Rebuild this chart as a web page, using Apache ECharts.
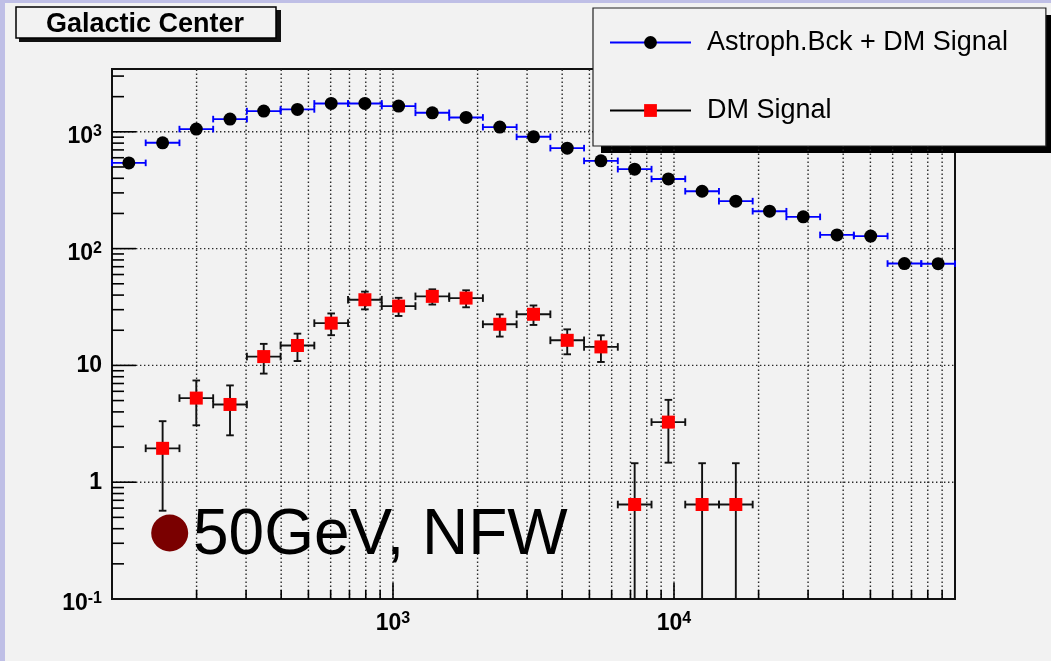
<!DOCTYPE html>
<html>
<head>
<meta charset="utf-8">
<script src="https://cdn.jsdelivr.net/npm/echarts@6.0.0/dist/echarts.min.js"></script>
<style>
  html, body { margin: 0; padding: 0; background: #f2f2f2; }
  #chart { width: 1051px; height: 661px; }
</style>
</head>
<body>
<div id="chart"></div>
<script>
// 25 logarithmic energy bins (GeV), 100 GeV .. 100 TeV
const binEdges = [100, 131.8, 173.8, 229.1, 302.0, 398.1, 524.8, 691.8, 912.0, 1202, 1585, 2089, 2754,
  3631, 4786, 6310, 8318, 10965, 14454, 19055, 25119, 33113, 43652, 57544, 75858, 100000];
const binCenters = [114.8, 151.4, 199.5, 263.0, 346.7, 457.1, 602.6, 794.3, 1047, 1380, 1820, 2399, 3162,
  4169, 5495, 7244, 9550, 12589, 16596, 21878, 28840, 38019, 50119, 66069, 87096];

// Counts per bin: astrophysical background plus dark-matter signal
const bckPlusSignal = [542, 805, 1055, 1285, 1504, 1556, 1750, 1750, 1660, 1455, 1328, 1097, 906,
  725, 564, 479, 395, 310, 255, 209, 187, 131, 128, 74.5, 74.3];

// Dark-matter signal alone (null = empty bin) and its statistical error
const dmSignal = [null, 1.95, 5.25, 4.63, 11.9, 14.8, 23.0, 36.5, 32.2, 39.0, 37.7, 22.5, 27.4,
  16.4, 14.4, 0.644, 3.27, 0.644, 0.644, null, null, null, null, null, null];
const dmSignalErr = [null, 1.38, 2.18, 2.11, 3.39, 3.9, 4.85, 6.3, 5.7, 5.8, 6.25, 4.85, 5.2,
  3.95, 3.7, 0.81, 1.8, 0.81, 0.81, null, null, null, null, null, null];

// Axis ranges and tick positions
const xRange = [100, 100000];
const yRange = [0.1, 3450];
const xDecades = [100, 1000, 10000];
const yDecades = [0.1, 1, 10, 100, 1000];
const minorMultiples = [2, 3, 4, 5, 6, 7, 8, 9];

const FONT = 'Liberation Sans';
const seriesNames = ['Astroph.Bck + DM Signal', 'DM Signal'];

function powerLabel(v, hidden) {
  const e = Math.log10(v);
  const n = Math.round(e);
  if (Math.abs(e - n) > 1e-6 || hidden.indexOf(n) >= 0) return '';
  if (n === 0) return '{c|1}';
  if (n === 1) return '{c|10}';
  return '{b|10}{s|' + n + '}';
}
const labelRich = {
  c: { fontFamily: FONT, fontSize: 23, fontWeight: 'bold', color: '#000' },
  b: { fontFamily: FONT, fontSize: 23, fontWeight: 'bold', color: '#000', lineHeight: 33, verticalAlign: 'bottom' },
  s: { fontFamily: FONT, fontSize: 16, fontWeight: 'bold', color: '#000', verticalAlign: 'middle' }
};

// Dotted grid lines and inward ticks (major + minor) on the bottom and left axes
function renderFrame(params, api) {
  const children = [];
  const bottom = api.coord([xRange[0], yRange[0]])[1];
  const top = api.coord([xRange[0], yRange[1]])[1];
  const left = api.coord([xRange[0], yRange[0]])[0];
  const right = api.coord([xRange[1], yRange[0]])[0];
  const dot = { stroke: '#2a2a2a', lineWidth: 1.4, lineDash: [1.4, 2.6] };
  const tick = { stroke: '#000', lineWidth: 1.6 };
  xDecades.forEach(function (d) {
    [1].concat(minorMultiples).forEach(function (m) {
      const v = d * m;
      if (v <= xRange[0] * 1.0001 || v >= xRange[1] * 0.9999) return;
      const px = api.coord([v, yRange[0]])[0];
      children.push({ type: 'line', shape: { x1: px, y1: bottom, x2: px, y2: top }, style: dot });
      children.push({ type: 'line', shape: { x1: px, y1: bottom, x2: px, y2: bottom - (m === 1 ? 16 : 9) }, style: tick });
    });
  });
  yDecades.forEach(function (d) {
    [1].concat(minorMultiples).forEach(function (m) {
      const v = d * m;
      if (v <= yRange[0] * 1.0001 || v >= yRange[1]) return;
      const py = api.coord([xRange[0], v])[1];
      if (m === 1) {
        children.push({ type: 'line', shape: { x1: left, y1: py, x2: right, y2: py }, style: dot });
      }
      children.push({ type: 'line', shape: { x1: left, y1: py, x2: left + (m === 1 ? 24 : 12), y2: py }, style: tick });
    });
  });
  return { type: 'group', children: children };
}

// Bin-width (horizontal) and statistical (vertical) error bars
function makeErrorRenderer(color, capHalf, withVertical) {
  return function (params, api) {
    const xc = api.value(0), y = api.value(1), x0 = api.value(2), x1 = api.value(3), err = api.value(4);
    const pc = api.coord([xc, y]);
    const pl = api.coord([x0, y]);
    const pr = api.coord([x1, y]);
    const st = { stroke: color, lineWidth: 1.9 };
    const ch = [
      { type: 'line', shape: { x1: pl[0], y1: pc[1], x2: pr[0], y2: pc[1] }, style: st },
      { type: 'line', shape: { x1: pl[0], y1: pc[1] - capHalf, x2: pl[0], y2: pc[1] + capHalf }, style: st },
      { type: 'line', shape: { x1: pr[0], y1: pc[1] - capHalf, x2: pr[0], y2: pc[1] + capHalf }, style: st }
    ];
    if (withVertical && err > 0) {
      const hi = api.coord([xc, y + err])[1];
      ch.push({ type: 'line', shape: { x1: pc[0], y1: pc[1], x2: pc[0], y2: hi }, style: st });
      ch.push({ type: 'line', shape: { x1: pc[0] - capHalf, y1: hi, x2: pc[0] + capHalf, y2: hi }, style: st });
      const lowVal = y - err;
      if (lowVal > yRange[0]) {
        const lo = api.coord([xc, lowVal])[1];
        ch.push({ type: 'line', shape: { x1: pc[0], y1: pc[1], x2: pc[0], y2: lo }, style: st });
        ch.push({ type: 'line', shape: { x1: pc[0] - capHalf, y1: lo, x2: pc[0] + capHalf, y2: lo }, style: st });
      } else {
        const lo = api.coord([xc, yRange[0]])[1];
        ch.push({ type: 'line', shape: { x1: pc[0], y1: pc[1], x2: pc[0], y2: lo }, style: st });
      }
    }
    return { type: 'group', children: ch };
  };
}

const bckRows = binCenters.map(function (c, i) {
  return [c, bckPlusSignal[i], binEdges[i], binEdges[i + 1], 0];
});
const dmRows = [];
binCenters.forEach(function (c, i) {
  if (dmSignal[i] !== null) dmRows.push([c, dmSignal[i], binEdges[i], binEdges[i + 1], dmSignalErr[i]]);
});

const chart = echarts.init(document.getElementById('chart'), null, { renderer: 'canvas' });
chart.setOption({
  animation: false,
  backgroundColor: '#f2f2f2',
  title: {
    text: 'Galactic Center',
    left: 16, top: 7,
    padding: [4, 32, 0, 30],
    backgroundColor: '#f2f2f2',
    borderColor: '#000', borderWidth: 1.5,
    textStyle: { fontFamily: FONT, fontSize: 27, fontWeight: 'bold', color: '#000' }
  },
  legend: {
    orient: 'vertical',
    left: 593, top: 8,
    padding: [21, 38, 22, 16],
    itemWidth: 81, itemHeight: 16, itemGap: 41,
    selectedMode: false,
    backgroundColor: '#f2f2f2',
    borderColor: '#222', borderWidth: 1.2,
    textStyle: { fontFamily: FONT, fontSize: 27, color: '#000', padding: [0, 0, 0, 11] },
    data: [
      { name: seriesNames[0], lineStyle: { color: '#0000ff', width: 2, opacity: 1 }, itemStyle: { color: '#000' } },
      { name: seriesNames[1], lineStyle: { color: '#000', width: 2, opacity: 1 }, itemStyle: { color: '#ff0000' } }
    ]
  },
  grid: {
    left: 112, top: 69, right: 96, bottom: 62,
    show: true, borderColor: '#111', borderWidth: 2, backgroundColor: 'transparent'
  },
  xAxis: {
    type: 'log', logBase: 10, min: xRange[0], max: xRange[1],
    axisLine: { show: false }, axisTick: { show: false }, splitLine: { show: false },
    axisLabel: {
      margin: 3, showMinLabel: false, showMaxLabel: false,
      formatter: function (v) { return powerLabel(v, [2, 5]); },
      rich: labelRich
    }
  },
  yAxis: {
    type: 'log', logBase: 10, min: yRange[0], max: yRange[1],
    axisLine: { show: false }, axisTick: { show: false }, splitLine: { show: false },
    axisLabel: {
      margin: 10, showMaxLabel: false,
      formatter: function (v) { return powerLabel(v, []); },
      rich: labelRich
    }
  },
  series: [
    {
      type: 'custom', name: 'frame', silent: true, z: 1,
      renderItem: renderFrame, data: [[1000, 10]]
    },
    {
      type: 'custom', name: 'bck-bins', silent: true, z: 2,
      renderItem: makeErrorRenderer('#0000ff', 3.3, false),
      encode: { x: 0, y: 1 }, data: bckRows
    },
    {
      type: 'custom', name: 'dm-bins', silent: true, z: 2,
      renderItem: makeErrorRenderer('#111', 3.8, true),
      encode: { x: 0, y: 1 }, data: dmRows
    },
    {
      type: 'line', name: seriesNames[0], z: 5,
      symbol: 'circle', symbolSize: 13, showSymbol: true,
      itemStyle: { color: '#000' }, lineStyle: { opacity: 0 },
      data: bckRows.map(function (r) { return [r[0], r[1]]; })
    },
    {
      type: 'line', name: seriesNames[1], z: 5,
      symbol: 'rect', symbolSize: 13, showSymbol: true,
      itemStyle: { color: '#ff0000' }, lineStyle: { opacity: 0 },
      data: dmRows.map(function (r) { return [r[0], r[1]]; })
    }
  ],
  graphic: [
    { type: 'rect', left: 0, top: 0, shape: { width: 5, height: 661 }, style: { fill: '#bfbfe6' }, silent: true },
    { type: 'rect', left: 0, top: 0, shape: { width: 1051, height: 3 }, style: { fill: '#bfbfe6' }, silent: true },
    // drop shadows behind the title box and the legend box
    { type: 'rect', z: 0, shape: { x: 19, y: 10, width: 262, height: 32 }, style: { fill: '#111' }, silent: true },
    { type: 'rect', z: 0, shape: { x: 601, y: 15, width: 450, height: 138 }, style: { fill: '#000' }, silent: true },
    { type: 'circle', shape: { cx: 169.7, cy: 533, r: 18.5 }, style: { fill: '#7a0000' }, silent: true, z: 10 },
    {
      type: 'text', x: 193, y: 536, silent: true, z: 10,
      style: { text: '50GeV, NFW', fontFamily: FONT, fontSize: 64, fill: '#000', verticalAlign: 'middle', align: 'left' }
    }
  ]
});
</script>
</body>
</html>
